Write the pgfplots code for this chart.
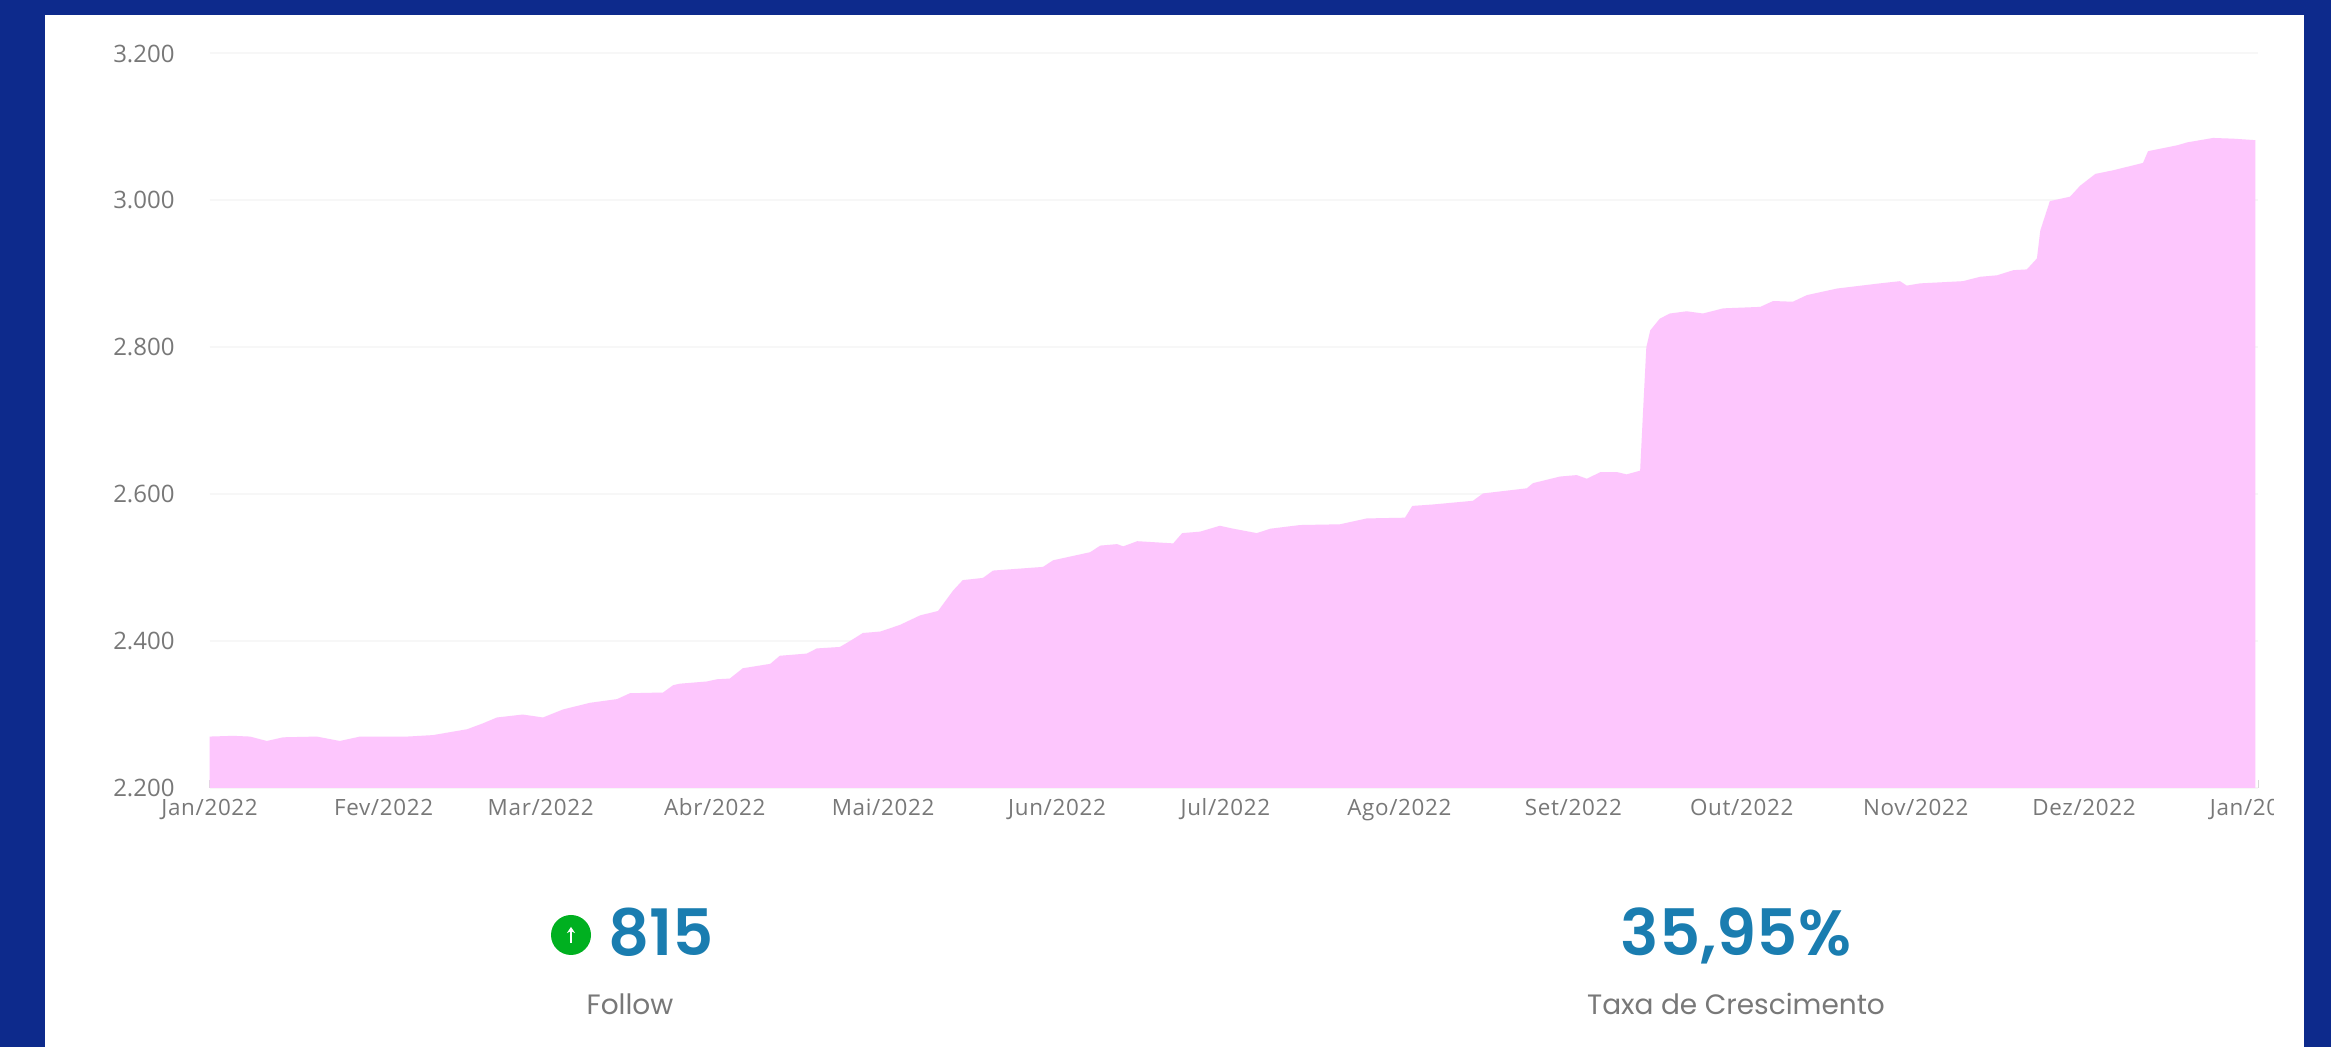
\documentclass[border=0pt]{standalone}
\usepackage{pgfplots}
\pgfplotsset{compat=1.18}
\usetikzlibrary{arrows.meta}
\usepackage{fontspec}
\setmainfont{Open Sans}
\newfontfamily\pop{Poppins}
\newfontfamily\popm{Poppins SemiBold}
\newfontfamily\tickf[LetterSpace=3]{Open Sans}
\definecolor{bgblue}{HTML}{0D2A8C}
\definecolor{pinkfill}{HTML}{FDC6FD}
\definecolor{numblue}{HTML}{1A7DB0}
\definecolor{tickgray}{HTML}{787878}
\definecolor{greenc}{HTML}{00B020}
\begin{document}
\begin{tikzpicture}[x=0.5pt,y=0.5pt]
\fill[white] (0,0) rectangle (2331,1047);
\begin{axis}[
  at={(104.8pt,129.5pt)},anchor=south west,
  scale only axis,width=1024.2pt,height=367.25pt,
  xmin=0,xmax=365,ymin=2200,ymax=3200,
  clip=false,
  axis line style={draw=none},
  xtick={0,31,59,90,120,151,181,212,243,273,304,334,365},
  xticklabels={Jan/2022,Fev/2022,Mar/2022,Abr/2022,Mai/2022,Jun/2022,Jul/2022,Ago/2022,Set/2022,Out/2022,Nov/2022,Dez/2022,Jan/2023},
  ytick={2200,2400,2600,2800,3000,3200},
  yticklabels={2.200,2.400,2.600,2.800,3.000,3.200},
  x tick style={draw=gray!30,line width=0.5pt},
  y tick style={draw=none},
  major tick length=4pt,
  xtick pos=bottom,ytick pos=left,
  ymajorgrids,
  grid style={draw=black!3,line width=1pt},
  xticklabel style={font=\tickf\fontsize{11.2}{12}\selectfont,text=tickgray,text height=8.5pt,text depth=2.5pt,yshift=-1.5pt},
  yticklabel style={font=\fontsize{12}{12}\selectfont,text=tickgray,xshift=-14pt},
]
\addplot[fill=pinkfill,draw=none] table {
0 2270
4.2 2271
7.2 2270
10.2 2264
13.1 2269
19.1 2270
23.2 2264
26.8 2270
35.2 2270
39.8 2272
45.9 2280
48.7 2288
51.2 2296
55.8 2300
59.4 2296
63 2307
67.8 2316
72.6 2321
74.9 2329
80.8 2330
82.6 2340
83.8 2342
88.6 2345
90.4 2348
92.7 2349
95 2363
99.9 2369
101.6 2380
106.4 2383
108.2 2390
112.3 2392
114.1 2400
116.4 2411
119.5 2413
123 2422
126.6 2435
129.8 2441
132.5 2469
134.2 2483
137.8 2486
139.6 2496
148.5 2501
150.3 2510
156.9 2521
158.7 2530
161.7 2532
162.8 2529
165.3 2536
171.7 2533
173.3 2547
176.5 2549
180 2557
182.4 2553
186.6 2547
189 2553
194.3 2558
201.4 2559
206.2 2567
213 2568
214.3 2584
218 2586
225.1 2591
226.9 2601
234.7 2608
235.8 2615
240.6 2624
243.6 2626
245.4 2621
247.8 2630
250.8 2630
252.5 2627
254.9 2632
255.4 2710
256 2800
256.7 2823
258.4 2839
260.2 2846
263.2 2849
266.1 2846
269.7 2853
276.3 2855
278.6 2863
282.1 2862
284.6 2871
290 2880
297.6 2887
301.2 2890
302.4 2884
304.8 2887
312.4 2890
315.5 2896
318.5 2898
321.4 2905
323.8 2906
325.6 2921
326.2 2959
327.9 2999
331.5 3005
333.3 3020
336 3036
339.2 3041
344.5 3051
345.4 3067
350.6 3075
352.4 3079
357 3085
360.6 3084
364.5 3082
} \closedcycle;
\end{axis}
% crop of the last tick label, and the frame
\fill[white] (2274,210) rectangle (2304,262);
\fill[bgblue] (0,0) rectangle (45,1047);
\fill[bgblue] (2304,0) rectangle (2331,1047);
\fill[bgblue] (0,1032) rectangle (2331,1047);
% statistics
\fill[greenc] (571,112) circle (20);
\draw[white,line width=1pt,-{Stealth[length=3pt,width=4pt]}] (571,104) -- (571,120);
\node[text=numblue,font=\popm\fontsize{32}{36}\selectfont,anchor=base] at (661,91) {815};
\node[text=tickgray,font=\pop\fontsize{14}{16}\selectfont,anchor=base] at (630,32) {Follow};
\node[text=numblue,font=\popm\fontsize{32}{36}\selectfont,anchor=base] at (1736,91) {35,95\%};
\node[text=tickgray,font=\pop\fontsize{14}{16}\selectfont,anchor=base] at (1736,32) {Taxa de Crescimento};
\end{tikzpicture}
\end{document}
